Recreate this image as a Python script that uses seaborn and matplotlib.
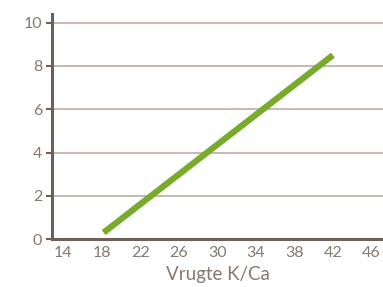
import matplotlib
matplotlib.use("Agg")
import matplotlib.pyplot as plt
import seaborn as sns
import pandas as pd

# --- data ---
kca = [18.2, 42]
value = [0.3, 8.5]
x_ticks = [14, 18, 22, 26, 30, 34, 38, 42, 46]
y_ticks = [0, 2, 4, 6, 8, 10]

AXIS = "#6e6058"
GRID = "#b9aea6"
TEXT = "#85786f"
GREEN = "#78aa2c"

sns.set_style("white")
plt.rcParams['font.family'] = ['Lato', 'DejaVu Sans']

df = pd.DataFrame({"kca": kca, "value": value})

fig = plt.figure(figsize=(3.83, 2.87), dpi=100)
ax = fig.add_axes([0.136, 0.167, 0.864, 0.784])

# horizontale rasterlijne
for y in y_ticks[1:]:
    ax.axhline(y, color=GRID, lw=1.2, zorder=1)

sns.lineplot(data=df, x="kca", y="value", color=GREEN, lw=4.5, ax=ax, zorder=3,
             solid_capstyle="butt")

ax.set_xlim(12.85, 47.2)
ax.set_ylim(0, 10.4)
ax.set_xticks(x_ticks)
ax.set_yticks(y_ticks)
ax.tick_params(axis="x", length=0, pad=5, labelsize=11.5, labelcolor=TEXT)
ax.tick_params(axis="y", length=4, width=1.5, color=AXIS, pad=3, labelsize=11.5, labelcolor=TEXT, left=True)
ax.set_xlabel("Vrugte K/Ca", color=TEXT, fontsize=13.5, labelpad=4)
ax.set_ylabel("")

sns.despine(ax=ax)
for s in ["left", "bottom"]:
    ax.spines[s].set_color(AXIS)
    ax.spines[s].set_linewidth(2.2)

fig.savefig("out.png", dpi=100)
